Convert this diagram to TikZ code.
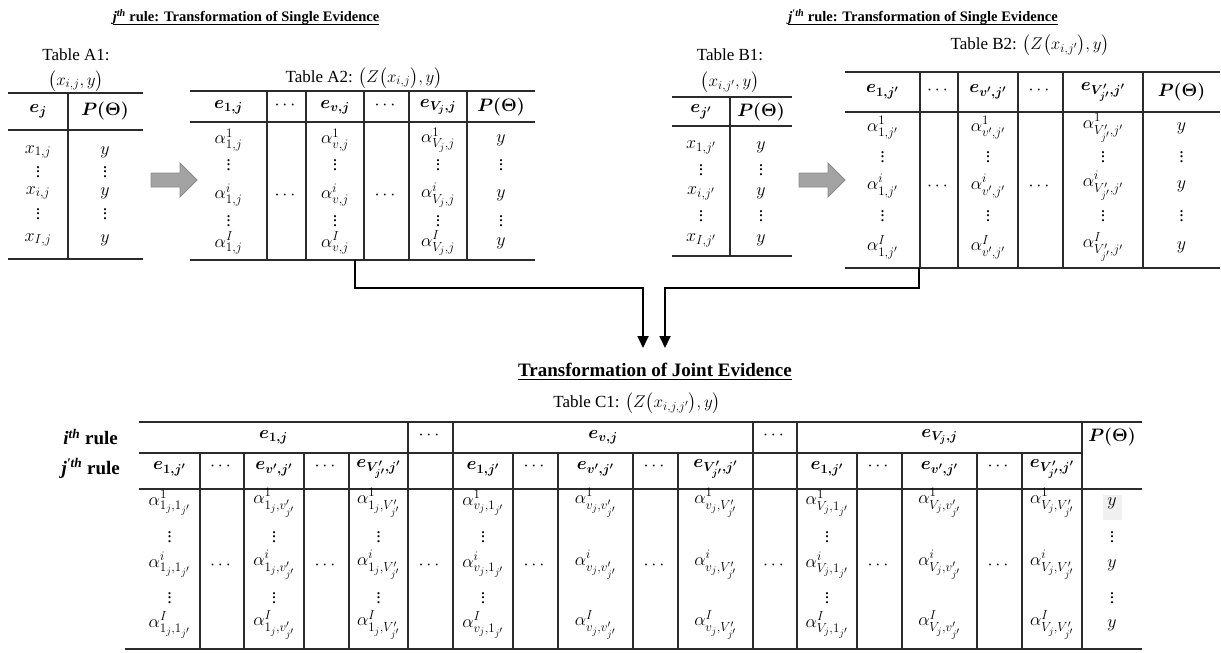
\documentclass[tikz,border=0pt]{standalone}
\usepackage{fix-cm}
\usepackage{amsmath}
\usepackage{bm}
\usepackage{fontspec}
\setmainfont{Liberation Serif}
\usetikzlibrary{arrows.meta}

% larger script sizes for the table entries
\DeclareMathSizes{18}{18}{13}{10}
\DeclareMathSizes{17}{17}{12.5}{9.5}

% compact vertical dots used inside the tables
\newcommand\vd{\vbox{\baselineskip=4.4pt\lineskiplimit=-20pt\hbox{.}\hbox{.}\hbox{.}}}
% row positions of the five data rows of the table being drawn
\newcommand\setrows[5]{\def\rya{#1}\def\ryb{#2}\def\ryc{#3}\def\ryd{#4}\def\rye{#5}}
% alpha column: alpha^1, dots, alpha^i, dots, alpha^I
\newcommand\acol[3]{%
  \node[cell] (#3a) at (#1,\rya) {$\alpha^{1}_{#2}$};
  \node[cell] (#3b) at (#1,\ryb) {\vd};
  \node[cell] (#3c) at (#1,\ryc) {$\alpha^{i}_{#2}$};
  \node[cell] (#3d) at (#1,\ryd) {\vd};
  \node[cell] (#3e) at (#1,\rye) {$\alpha^{I}_{#2}$};}
% alpha column without the vertical dots
\newcommand\acolsparse[3]{%
  \node[cell] (#3a) at (#1,\rya) {$\alpha^{1}_{#2}$};
  \node[cell] (#3c) at (#1,\ryc) {$\alpha^{i}_{#2}$};
  \node[cell] (#3e) at (#1,\rye) {$\alpha^{I}_{#2}$};}
% x column of the single-evidence tables
\newcommand\xcol[3]{%
  \node[cell] (#3a) at (#1,\rya) {$x_{1,#2}$};
  \node[cell] (#3b) at (#1,\ryb) {\vd};
  \node[cell] (#3c) at (#1,\ryc) {$x_{i,#2}$};
  \node[cell] (#3d) at (#1,\ryd) {\vd};
  \node[cell] (#3e) at (#1,\rye) {$x_{I,#2}$};}
% probability column
\newcommand\ycol[2]{%
  \node[cell] (#2a) at (#1,\rya) {$y$};
  \node[cell] (#2b) at (#1,\ryb) {\vd};
  \node[cell] (#2c) at (#1,\ryc) {$y$};
  \node[cell] (#2d) at (#1,\ryd) {\vd};
  \node[cell] (#2e) at (#1,\rye) {$y$};}
% ellipsis column
\newcommand\dcol[2]{\node[cell] (#2) at (#1,\ryc) {$\cdots$};}

\definecolor{linegray}{HTML}{2B2B2B}
\definecolor{arrowfill}{HTML}{A3A3A3}
\definecolor{arrowedge}{HTML}{8A8A8A}

\tikzset{
  rule/.style={line width=1.2pt, draw=linegray},
  cell/.style={inner sep=0pt, font=\fontsize{18}{21}\selectfont},
  lbl/.style={inner sep=0pt, font=\fontsize{17}{20}\selectfont},
  ttl/.style={inner sep=0pt, font=\fontsize{14.5}{17}\selectfont\bfseries},
  ttlbig/.style={inner sep=0pt, font=\fontsize{19}{22}\selectfont\bfseries},
  rowlbl/.style={inner sep=0pt, font=\fontsize{19}{22}\selectfont\bfseries},
  uline/.style={line width=0.9pt, draw=black},
  conn/.style={line width=1.8pt, draw=black, -{Triangle[length=12pt,width=11pt]}},
  garrow/.style={fill=arrowfill, draw=arrowedge, line width=0.8pt},
}

\begin{document}
\begin{tikzpicture}[x=1pt,y=-1pt]
\path[use as bounding box] (0,0) rectangle (1221,653);

% ---------------- titles ----------------
\node[ttl] (tA) at (246,17) {\textit{j}\textsuperscript{\textit{th}} rule: Transformation of Single Evidence};
\draw[uline] ([yshift=-2.5pt]tA.base west) -- ([yshift=-2.5pt]tA.base east);
\node[ttl] (tB) at (923,17) {\textit{j}\textsuperscript{\textit{\char"2032th}} rule: Transformation of Single Evidence};
\draw[uline] ([yshift=-2.5pt]tB.base west) -- ([yshift=-2.5pt]tB.base east);
\node[ttlbig] (tJ) at (655,370) {Transformation of Joint Evidence};
\draw[uline] ([yshift=-2.5pt]tJ.base west) -- ([yshift=-2.5pt]tJ.base east);

% ---------------- Table A1 ----------------
\node[lbl] (lA1) at (76,55) {Table A1:};
\node[lbl] (lA1b) at (76,81) {$\bigl(x_{i,j},y\bigr)$};
\draw[rule] (8,93) -- (143,93);
\draw[rule] (8,130) -- (143,130);
\draw[rule] (8,259) -- (143,259);
\draw[rule] (68,93) -- (68,259);
\node[cell] (hA1a) at (38,111) {$\bm{e_{j}}$};
\node[cell] (hA1b) at (105,111) {$\bm{P(\Theta)}$};
\setrows{152}{172}{193}{214}{240}
\xcol{38}{j}{A1x}
\ycol{105}{A1y}

% gray arrow A
\draw[garrow] (151,173) -- (180,173) -- (180,163) -- (197,180) -- (180,197) -- (180,187) -- (151,187) -- cycle;

% ---------------- Table A2 ----------------
\node[lbl] (lA2) at (364,78) {Table A2: $\bigl(Z\bigl(x_{i,j}\bigr),y\bigr)$};
\draw[rule] (190,91) -- (535,91);
\draw[rule] (190,122) -- (535,122);
\draw[rule] (190,260) -- (535,260);
\foreach \x in {267,306,364,409,467} \draw[rule] (\x,91) -- (\x,260);
\node[cell] (hA2a) at (228.5,107) {$\bm{e_{1,j}}$};
\node[cell] (hA2b) at (286.5,105) {$\cdots$};
\node[cell] (hA2c) at (335,107) {$\bm{e_{v,j}}$};
\node[cell] (hA2d) at (386.5,105) {$\cdots$};
\node[cell] (hA2e) at (438,107) {$\bm{e_{V_j,j}}$};
\node[cell] (hA2f) at (501,107) {$\bm{P(\Theta)}$};
\setrows{140}{165}{195}{221}{243}
\acol{228.5}{1,j}{A2p}
\dcol{286.5}{A2q}
\acol{335}{v,j}{A2r}
\dcol{386.5}{A2s}
\acol{438}{V_j,j}{A2t}
\ycol{501}{A2u}

% ---------------- Table B1 ----------------
\node[lbl] (lB1) at (730,55) {Table B1:};
\node[lbl] (lB1b) at (730,82) {$\bigl(x_{i,j'},y\bigr)$};
\draw[rule] (672,97) -- (792,97);
\draw[rule] (672,126) -- (792,126);
\draw[rule] (672,256) -- (792,256);
\draw[rule] (730,97) -- (730,256);
\node[cell] (hB1a) at (701,112) {$\bm{e_{j'}}$};
\node[cell] (hB1b) at (761,112) {$\bm{P(\Theta)}$};
\setrows{147}{170}{193}{216}{240}
\xcol{701}{j'}{B1x}
\ycol{761}{B1y}

% gray arrow B
\draw[garrow] (799,173) -- (828,173) -- (828,163) -- (845,180) -- (828,197) -- (828,187) -- (799,187) -- cycle;

% ---------------- Table B2 ----------------
\node[lbl] (lB2) at (1030,45) {Table B2: $\bigl(Z\bigl(x_{i,j'}\bigr),y\bigr)$};
\draw[rule] (845,72) -- (1220,72);
\draw[rule] (845,112) -- (1220,112);
\draw[rule] (845,268) -- (1220,268);
\foreach \x in {920,958,1018,1063,1143} \draw[rule] (\x,72) -- (\x,268);
\node[cell] (hB2a) at (882.5,92) {$\bm{e_{1,j'}}$};
\node[cell] (hB2b) at (939,90) {$\cdots$};
\node[cell] (hB2c) at (988,92) {$\bm{e_{v',j'}}$};
\node[cell] (hB2d) at (1040.5,90) {$\cdots$};
\node[cell] (hB2e) at (1103,92) {$\bm{e_{V'_{j'},j'}}$};
\node[cell] (hB2f) at (1181.5,92) {$\bm{P(\Theta)}$};
\setrows{128}{157}{186}{216}{247}
\acol{882.5}{1,j'}{B2p}
\dcol{939}{B2q}
\acol{988}{v',j'}{B2r}
\dcol{1040.5}{B2s}
\acol{1103}{V'_{j'},j'}{B2t}
\ycol{1181.5}{B2u}

% ---------------- connectors ----------------
\coordinate (a2foot) at (355,260);
\coordinate (b2foot) at (919,268);
\coordinate (tipL) at (643,348);
\coordinate (tipR) at (665,348);
\draw[conn] (a2foot) -- ++(0,28) -| (tipL);
\draw[conn] (b2foot) -- ++(0,20) -| (tipR);

% ---------------- Table C1 ----------------
\node[lbl] (lC1) at (637,403) {Table C1: $\bigl(Z\bigl(x_{i,j,j'}\bigr),y\bigr)$};
\node[rowlbl, anchor=east] (ri) at (118,437) {\textit{i}\textsuperscript{\textit{th}} rule};
\node[rowlbl, anchor=east] (rj) at (120,468) {\textit{j}\textsuperscript{\textit{\char"2032th}} rule};

\fill[black!6] (1103,495) rectangle (1122,520);

\draw[rule] (139,422) -- (1142,422);
\draw[rule] (139,453) -- (1082,453);
\draw[rule] (139,489) -- (1142,489);
\draw[rule] (125,649) -- (1142,649);
\foreach \x in {408,453,753,797,1082} \draw[rule] (\x,422) -- (\x,649);
\foreach \x in {200,244,304,349,513,558,633,678,857,902,977,1022} \draw[rule] (\x,453) -- (\x,649);

% first header row
\node[cell] (hC1a) at (273.5,437) {$\bm{e_{1,j}}$};
\node[cell] (hC1b) at (430.5,435) {$\cdots$};
\node[cell] (hC1c) at (603,437) {$\bm{e_{v,j}}$};
\node[cell] (hC1d) at (775,435) {$\cdots$};
\node[cell] (hC1e) at (939.5,437) {$\bm{e_{V_j,j}}$};
\node[cell] (hC1f) at (1112,437) {$\bm{P(\Theta)}$};

% second header row
\foreach \g/\xa/\xb/\xc/\xd/\xe in {1/169.5/222/274/326.5/378.5, 2/483/535.5/595.5/655.5/715.5, 3/827/879.5/939.5/999.5/1052}{
  \node[cell] (hC2\g a) at (\xa,469) {$\bm{e_{1,j'}}$};
  \node[cell] (hC2\g b) at (\xb,466) {$\cdots$};
  \node[cell] (hC2\g c) at (\xc,469) {$\bm{e_{v',j'}}$};
  \node[cell] (hC2\g d) at (\xd,466) {$\cdots$};
  \node[cell] (hC2\g e) at (\xe,469) {$\bm{e_{V'_{j'},j'}}$};
}

% data rows
\setrows{503}{537}{565}{598}{625}
\acol{169.5}{1_j,1_{j'}}{C1a}
\dcol{222}{C1b}
\acol{274}{1_j,v'_{j'}}{C1c}
\dcol{326.5}{C1d}
\acol{378.5}{1_j,V'_{j'}}{C1e}
\dcol{430.5}{C1f}
\acol{483}{v_j,1_{j'}}{C1g}
\dcol{535.5}{C1h}
\acolsparse{595.5}{v_j,v'_{j'}}{C1i}
\dcol{655.5}{C1j}
\acolsparse{715.5}{v_j,V'_{j'}}{C1k}
\dcol{775}{C1l}
\acol{827}{V_j,1_{j'}}{C1m}
\dcol{879.5}{C1n}
\acolsparse{939.5}{V_j,v'_{j'}}{C1o}
\dcol{999.5}{C1p}
\acolsparse{1052}{V_j,V'_{j'}}{C1q}
\ycol{1112}{C1r}

\end{tikzpicture}
\end{document}
